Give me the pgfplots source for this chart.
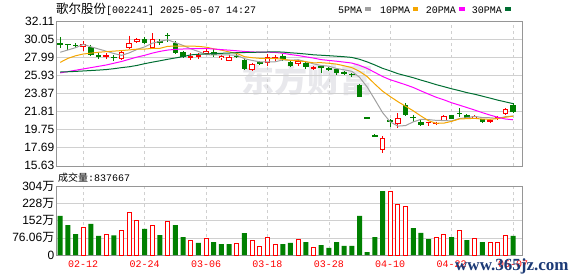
\documentclass[border=0pt]{standalone}
\usepackage{pgfplots}
\pgfplotsset{compat=1.18}
\usepackage{pgfplotstable}
\usepackage{fontspec}
\setmainfont{Liberation Sans}
\newfontfamily\cjk{Noto Sans CJK SC}
\newfontfamily\mono{Liberation Mono}
\newfontfamily\wserif{Liberation Serif}
\definecolor{kred}{RGB}{255,0,0}
\definecolor{kgreen}{RGB}{0,128,0}
\definecolor{maA}{RGB}{160,160,160}
\definecolor{maB}{RGB}{245,166,0}
\definecolor{maC}{RGB}{255,0,255}
\definecolor{maD}{RGB}{0,110,50}
\definecolor{frame}{RGB}{150,150,150}
\definecolor{gridc}{RGB}{208,208,208}
\definecolor{wm}{RGB}{232,232,236}
\definecolor{navy}{RGB}{28,58,118}

\pgfplotstableread{
i O H L C
0 29.62 30.25 29.00 29.35
1 29.48 29.50 28.80 29.45
2 29.40 29.57 29.00 29.30
4 29.12 29.38 28.12 28.24
5 28.15 28.45 27.75 28.10
7 28.00 28.24 27.60 27.95
11 30.10 30.30 29.50 29.64
13 29.80 30.05 29.35 29.65
14 30.52 30.70 29.75 30.48
15 29.57 29.80 28.30 28.43
16 28.55 28.70 27.93 28.05
20 28.60 28.90 28.00 28.20
23 28.10 28.30 27.85 28.05
24 27.67 27.85 26.50 26.70
26 27.40 27.50 27.15 27.30
29 28.10 28.30 27.50 27.80
30 27.47 27.60 26.90 27.00
32 27.35 27.60 26.60 26.90
34 26.90 27.10 26.20 26.85
35 26.75 26.85 26.45 26.65
36 26.61 26.65 25.96 26.23
37 26.25 26.40 25.95 26.18
38 26.08 26.20 25.70 26.00
39 24.78 24.95 23.42 23.46
40 21.12 21.12 21.10 21.10
41 19.05 19.20 18.99 19.00
43 20.78 20.90 20.01 20.71
45 22.55 22.74 21.30 21.41
46 21.15 21.41 20.65 21.10
47 20.65 20.80 20.10 20.27
51 21.41 21.45 20.90 20.92
52 21.65 22.17 21.15 21.58
53 21.41 21.50 21.05 21.10
55 20.92 20.96 20.55 20.65
59 22.55 22.74 21.65 21.72
}\dn

\pgfplotstableread{
i O H L C
3 29.15 29.83 28.75 29.52
6 28.10 28.45 27.80 28.18
8 27.78 28.73 27.67 28.55
9 29.00 30.45 28.90 29.60
10 29.72 30.20 29.60 30.06
12 29.07 30.71 29.00 30.03
17 27.98 28.43 27.67 28.10
18 28.10 28.43 27.80 28.15
19 28.35 28.90 28.20 28.70
21 27.85 28.25 27.70 28.10
22 27.60 28.20 27.55 28.05
25 26.53 27.35 26.40 27.22
27 27.35 28.30 27.00 28.05
28 27.80 28.20 27.60 28.05
31 27.20 27.70 27.00 27.58
33 26.75 27.00 26.50 26.85
42 17.43 19.02 17.12 18.83
44 20.35 21.61 19.90 21.04
48 20.56 20.60 20.10 20.60
49 20.35 20.65 20.25 20.55
50 20.76 21.40 20.70 21.33
54 21.04 21.35 21.00 21.30
56 20.65 20.96 20.50 20.84
57 20.96 21.30 20.80 21.15
58 21.49 22.17 21.45 22.09
}\up

\pgfplotstableread{
i m5 m10 m20 m30
0 28.55 27.40 26.20 26.30
1 28.81 27.85 26.35 26.33
2 29.07 28.15 26.50 26.37
3 29.45 28.35 26.65 26.42
4 29.17 28.45 26.80 26.47
5 28.92 28.55 26.95 26.52
6 28.67 28.62 27.10 26.58
7 28.40 28.68 27.30 26.68
8 28.20 28.74 27.50 26.80
9 28.48 28.82 27.75 26.90
10 28.87 28.90 28.00 27.05
11 29.16 28.91 28.20 27.25
12 29.58 28.99 28.45 27.42
13 29.80 29.00 28.65 27.58
14 29.97 29.22 28.80 27.75
15 29.65 29.26 28.88 27.90
16 29.33 29.24 28.92 28.05
17 28.94 29.26 28.95 28.25
18 28.64 29.22 28.97 28.32
19 28.29 29.13 28.98 28.36
20 28.24 28.94 28.92 28.40
21 28.25 28.79 28.85 28.43
22 28.24 28.59 28.79 28.46
23 28.22 28.43 28.72 28.50
24 27.82 28.05 28.64 28.52
25 27.62 27.93 28.59 28.54
26 27.46 27.86 28.55 28.56
27 27.46 27.85 28.56 28.58
28 27.46 27.84 28.53 28.60
29 27.68 27.75 28.44 28.57
30 27.64 27.63 28.29 28.49
31 27.70 27.58 28.18 28.43
32 27.47 27.47 28.03 28.35
33 27.23 27.35 27.89 28.26
34 27.04 27.36 27.71 28.21
35 26.97 27.30 27.62 28.16
36 26.70 27.20 27.53 28.10
37 26.55 27.01 27.43 28.04
38 26.38 26.80 27.32 27.96
39 25.70 26.37 27.06 27.75
40 24.59 25.78 26.71 27.45
41 23.15 24.92 26.25 27.10
42 21.68 24.12 25.79 26.72
43 20.62 23.50 25.42 26.43
44 20.14 22.92 25.14 26.11
45 20.20 22.40 24.85 25.88
46 20.62 21.88 24.54 25.65
47 20.91 21.29 24.15 25.38
48 20.88 20.75 23.78 25.13
49 20.79 20.46 23.42 24.86
50 20.77 20.48 23.13 24.63
51 20.73 20.68 22.80 24.39
52 21.00 20.95 22.53 24.18
53 21.10 20.99 22.25 23.95
54 21.25 21.02 21.97 23.77
55 21.11 20.94 21.67 23.55
56 21.09 20.91 21.40 23.33
57 21.01 21.00 21.15 23.10
58 21.21 21.15 20.95 22.90
59 21.29 21.27 20.86 22.70
}\ma

\pgfplotstableread{
i v
0 172
1 132
2 92.5
4 137
5 84
7 87
11 115
13 88
15 132
16 79
18 53
20 57
21 48
22 48
24 97
29 48
30 53
32 57
34 43
35 31
36 57
37 40
38 40
39 172
40 13
41 79
42 282
46 119
47 98
48 70
51 79
53 66
55 57
59 84
}\vg

\pgfplotstableread{
i v
3 122
6 91
8 109
9 188
10 153
12 131
14 148
17 62
19 73
23 51
25 65
26 38
27 78
28 47
31 68
33 34
43 280
44 223
45 214
49 78
50 92.5
52 109
54 73
56 53
57 57
58 87
}\vr

\pgfplotsset{
  kax/.style={
    scale only axis, width=466pt,
    xmin=-0.55, xmax=60.17,
    axis line style={draw=frame},
    major tick length=0pt,
    xtick={3,11,19,27,35,43,51,59},
    xmajorgrids, ymajorgrids,
    x grid style={draw=gridc, dash pattern=on 3pt off 3pt},
    y grid style={draw=gridc},
    yticklabel style={font=\fontsize{12}{12}\selectfont, inner sep=1.5pt},
    clip=true,
  },
  cstick/.style={draw=none, no markers, forget plot},
}

\begin{document}
\begin{tikzpicture}[x=1pt,y=1pt]
\path[use as bounding box] (0,0) rectangle (578,276);

% watermark
\node[anchor=base, inner sep=0, text=wm] at (307.5,183) {\cjk\bfseries\fontsize{33}{33}\selectfont 东方财富};

% price panel
\begin{axis}[kax, at={(56pt,110.3pt)}, anchor=south west, height=144.7pt,
  ymin=15.63, ymax=32.11,
  ytick={15.63,17.69,19.75,21.81,23.87,25.93,27.99,30.05,32.11},
  yticklabels={15.63,17.69,19.75,21.81,23.87,25.93,27.99,30.05,32.11},
  xticklabels={}]
% down candles: wicks and filled bodies
\addplot[cstick,
  error bars/.cd, y dir=minus, y explicit, error mark=none,
  error bar style={draw=kgreen, line width=1pt}]
  table[x=i, y=H, y error expr=\thisrow{H}-\thisrow{L}] {\dn};
\addplot[cstick,
  error bars/.cd, y dir=both, y explicit, error mark=none,
  error bar style={draw=kgreen, line width=5.6pt}]
  table[x=i, y expr=(\thisrow{O}+\thisrow{C})/2, y error expr={max((\thisrow{O}-\thisrow{C})/2,0.057)}] {\dn};
% up candles: wicks and hollow bodies
\addplot[cstick,
  error bars/.cd, y dir=minus, y explicit, error mark=none,
  error bar style={draw=kred, line width=1pt}]
  table[x=i, y=H, y error expr=\thisrow{H}-\thisrow{L}] {\up};
\addplot[cstick,
  error bars/.cd, y dir=both, y explicit, error mark=none,
  error bar style={draw=kred, line width=5.6pt}]
  table[x=i, y expr=(\thisrow{O}+\thisrow{C})/2, y error expr={max((\thisrow{C}-\thisrow{O})/2,0.057)}] {\up};
\addplot[cstick,
  error bars/.cd, y dir=both, y explicit, error mark=none,
  error bar style={draw=white, line width=3.6pt}]
  table[x=i, y expr=(\thisrow{O}+\thisrow{C})/2, y error expr={max((\thisrow{C}-\thisrow{O})/2-0.114,0)}] {\up};
% moving averages
\addplot[maA, line width=1pt, mark=none] table[x=i, y=m5] {\ma};
\addplot[maB, line width=1pt, mark=none] table[x=i, y=m10] {\ma};
\addplot[maC, line width=1pt, mark=none] table[x=i, y=m20] {\ma};
\addplot[maD, line width=1pt, mark=none] table[x=i, y=m30] {\ma};
\end{axis}

% volume panel
\begin{axis}[kax, at={(56pt,21pt)}, anchor=south west, height=69pt,
  ymin=0, ymax=304.24,
  ytick={0,76.06,152.12,228.18,304.24},
  yticklabels={0,76.06{\cjk 万},152{\cjk 万},228{\cjk 万},304{\cjk 万}},
  xticklabels={02-12,02-24,03-06,03-18,03-28,04-10,04-22,05-07},
  xticklabel style={font=\mono\fontsize{10}{10}\selectfont, text=kred, inner sep=0pt, yshift=-6pt}]
\addplot[ybar, bar width=5pt, bar shift=0pt, fill=kgreen, draw=none] table[x=i, y=v] {\vg};
\addplot[ybar, bar width=4pt, bar shift=0pt, fill=white, draw=kred, line width=1pt] table[x=i, y=v] {\vr};
\end{axis}

% title
\node[anchor=base west, inner sep=0] at (56,262.7) {{\cjk\fontsize{12.5}{12.5}\selectfont 歌尔股份}{\mono\fontsize{10}{10}\selectfont [002241] 2025-05-07 14:27}};
% legend
\node[anchor=base west, inner sep=0] at (338,262.7) {\mono\fontsize{10}{10}\selectfont 5PMA};
\fill[maA] (365,265.3) rectangle (371,268.7);
\node[anchor=base west, inner sep=0] at (380,262.7) {\mono\fontsize{10}{10}\selectfont 10PMA};
\fill[maB] (412.7,265.3) rectangle (418.3,268.7);
\node[anchor=base west, inner sep=0] at (425.7,262.7) {\mono\fontsize{10}{10}\selectfont 20PMA};
\fill[maC] (459,265.3) rectangle (465,268.7);
\node[anchor=base west, inner sep=0] at (471.7,262.7) {\mono\fontsize{10}{10}\selectfont 30PMA};
\fill[maD] (505,265.3) rectangle (511,268.7);
% volume label
\node[anchor=base west, inner sep=0] at (58,95) {{\cjk\fontsize{10}{10}\selectfont 成交量}{\mono\fontsize{10}{10}\selectfont :837667}};
% site watermark
\node[anchor=base west, inner sep=0, text=navy] at (455,6) {\wserif\bfseries\fontsize{17}{17}\selectfont www.365jz.com};
\end{tikzpicture}
\end{document}
